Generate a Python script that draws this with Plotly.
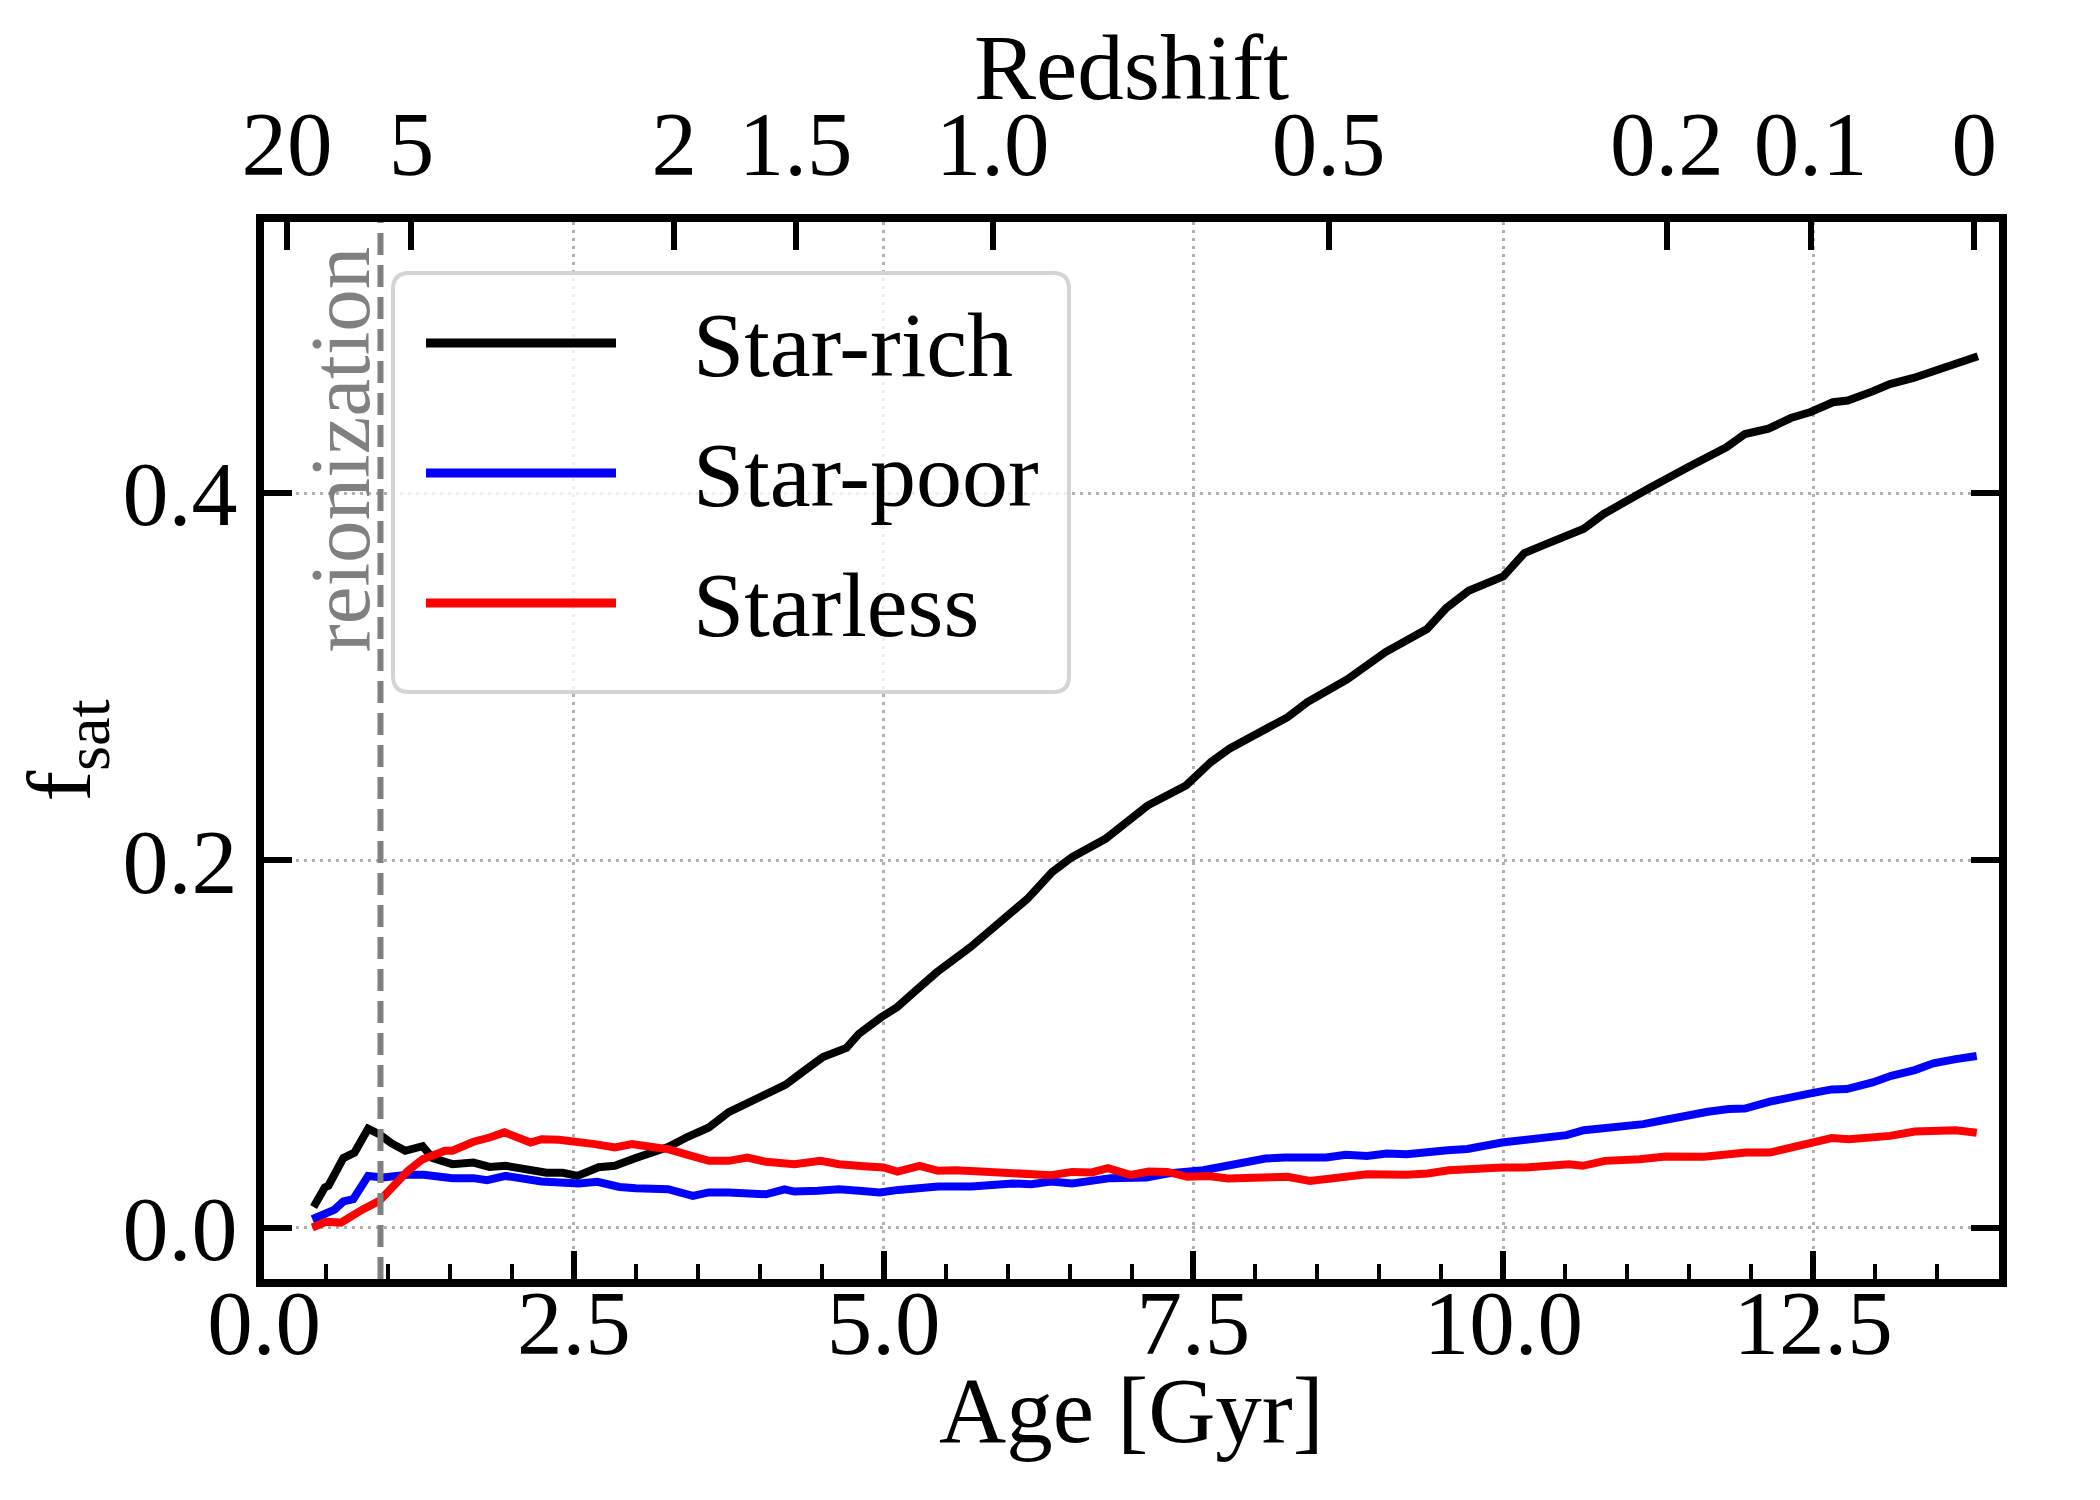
import plotly.graph_objects as go

FONT = "Liberation Serif, Times New Roman, serif"

# Star-rich haloes: age [Gyr], satellite fraction
rich_age = [0.40, 0.49, 0.52, 0.64, 0.73, 0.84, 0.93, 1.03, 1.14, 1.28, 1.36, 1.52, 1.69, 1.82,
            1.95, 2.11, 2.28, 2.41, 2.53, 2.70, 2.83, 3.00, 3.13, 3.26, 3.42, 3.59, 3.75, 3.88,
            4.05, 4.21, 4.34, 4.51, 4.70, 4.80, 4.98, 5.11, 5.26, 5.43, 5.70, 5.93, 6.16, 6.36,
            6.52, 6.79, 7.13, 7.44, 7.64, 7.79, 8.03, 8.26, 8.42, 8.59, 8.74, 9.05, 9.21, 9.385,
            9.54, 9.72, 10.0, 10.17, 10.32, 10.51, 10.65, 10.81, 11.0, 11.18, 11.49, 11.80,
            11.95, 12.14, 12.32, 12.48, 12.66, 12.78, 12.98, 13.12, 13.31, 13.46, 13.64, 13.83]
rich_fsat = [0.0114, 0.022, 0.023, 0.038, 0.041, 0.054, 0.051, 0.046, 0.042, 0.0445, 0.038,
             0.0347, 0.0356, 0.0332, 0.0338, 0.032, 0.030, 0.030, 0.0283, 0.033, 0.0338, 0.038,
             0.0405, 0.044, 0.0496, 0.0547, 0.063, 0.0674, 0.0738, 0.078, 0.0846, 0.093, 0.098,
             0.1056, 0.1147, 0.1202, 0.1292, 0.1392, 0.1528, 0.1664, 0.1791, 0.1937, 0.2018,
             0.2118, 0.2299, 0.2408, 0.2535, 0.2608, 0.2699, 0.278, 0.2862, 0.2934, 0.2985,
             0.3134, 0.3198, 0.326, 0.3374, 0.3468, 0.3546, 0.3673, 0.3715, 0.3773, 0.3806,
             0.3886, 0.3964, 0.4027, 0.414, 0.4249, 0.4321, 0.435, 0.4408, 0.4441, 0.4494,
             0.4503, 0.4553, 0.4593, 0.4626, 0.4662, 0.4695, 0.4744]

# Star-poor haloes
poor_age = [0.39, 0.49, 0.57, 0.64, 0.72, 0.84, 0.96, 1.16, 1.29, 1.52, 1.69, 1.80, 1.95, 2.24,
            2.54, 2.69, 2.87, 3.00, 3.26, 3.46, 3.59, 3.75, 3.92, 4.05, 4.20, 4.28, 4.47, 4.64,
            4.80, 4.97, 5.12, 5.44, 5.71, 6.04, 6.19, 6.35, 6.52, 6.68, 6.83, 7.12, 7.29, 7.58,
            7.78, 7.93, 8.08, 8.24, 8.57, 8.73, 8.90, 9.06, 9.22, 9.55, 9.71, 9.99, 10.27, 10.51,
            10.65, 10.85, 11.13, 11.31, 11.50, 11.65, 11.82, 11.95, 12.15, 12.33, 12.48, 12.65,
            12.77, 12.98, 13.13, 13.32, 13.47, 13.65, 13.82]
poor_fsat = [0.0047, 0.0071, 0.010, 0.0144, 0.0156, 0.0283, 0.0274, 0.0289, 0.0289, 0.0271,
             0.0271, 0.026, 0.0283, 0.0253, 0.0242, 0.0251, 0.0223, 0.0216, 0.0211, 0.0174,
             0.0193, 0.0193, 0.0183, 0.0183, 0.021, 0.0198, 0.0202, 0.021, 0.0202, 0.0193,
             0.0207, 0.0225, 0.0225, 0.0242, 0.0238, 0.0253, 0.0242, 0.0253, 0.0271, 0.0274,
             0.0296, 0.0314, 0.0343, 0.0356, 0.0378, 0.0383, 0.0383, 0.0398, 0.0392, 0.0405,
             0.0401, 0.0423, 0.043, 0.0465, 0.0483, 0.0505, 0.0532, 0.0543, 0.0565, 0.0589,
             0.0616, 0.0632, 0.0647, 0.065, 0.0687, 0.0707, 0.0732, 0.0754, 0.0756, 0.0792,
             0.0828, 0.0859, 0.0896, 0.0919, 0.0936]

# Starless haloes
less_age = [0.39, 0.50, 0.62, 0.70, 0.80, 0.93, 1.06, 1.16, 1.28, 1.46, 1.52, 1.69, 1.82, 1.94,
            2.15, 2.24, 2.38, 2.54, 2.67, 2.83, 2.97, 3.16, 3.26, 3.42, 3.59, 3.75, 3.90, 4.05,
            4.28, 4.49, 4.64, 4.84, 5.00, 5.11, 5.29, 5.44, 5.58, 5.78, 6.01, 6.21, 6.35, 6.52,
            6.68, 6.81, 6.99, 7.14, 7.29, 7.45, 7.62, 7.78, 8.08, 8.26, 8.44, 8.57, 8.73, 8.90,
            9.22, 9.39, 9.56, 9.71, 9.84, 9.99, 10.18, 10.30, 10.53, 10.64, 10.82, 11.10, 11.31,
            11.62, 11.81, 11.96, 12.15, 12.33, 12.48, 12.65, 12.79, 12.98, 13.12, 13.32, 13.47,
            13.65, 13.82]
less_fsat = [0.0002, 0.0033, 0.0029, 0.0065, 0.0102, 0.0147, 0.0247, 0.031, 0.0374, 0.042,
             0.042, 0.0469, 0.0492, 0.052, 0.0465, 0.0483, 0.048, 0.0461, 0.0456, 0.0438, 0.0456,
             0.0438, 0.0429, 0.0398, 0.0365, 0.0365, 0.0383, 0.036, 0.0347, 0.0365, 0.0347,
             0.0336, 0.0329, 0.0307, 0.0338, 0.0311, 0.0314, 0.0307, 0.0298, 0.0296, 0.0287,
             0.0305, 0.0302, 0.0325, 0.0289, 0.0307, 0.0305, 0.0278, 0.0283, 0.0269, 0.0269,
             0.0278, 0.0256, 0.0265, 0.0287, 0.0292, 0.0289, 0.0296, 0.0314, 0.0318, 0.0332,
             0.0329, 0.0329, 0.0334, 0.0347, 0.0338, 0.0365, 0.0374, 0.0389, 0.0387, 0.0398,
             0.041, 0.041, 0.0441, 0.046, 0.0489, 0.0483, 0.0489, 0.0501, 0.0525, 0.0529,
             0.0532, 0.0518]

age_ticks = [0.0, 2.5, 5.0, 7.5, 10.0, 12.5]
fsat_ticks = [0.0, 0.2, 0.4]
redshift_labels = ['20', '5', '2', '1.5', '1.0', '0.5', '0.2', '0.1', '0']
redshift_age = [0.185, 1.19, 3.31, 4.29, 5.88, 8.59, 11.32, 12.48, 13.80]
reionization_age = 0.94

series = [
    ('Star-rich', rich_age, rich_fsat, '#000000'),
    ('Star-poor', poor_age, poor_fsat, '#0000ff'),
    ('Starless', less_age, less_fsat, '#ff0000'),
]

# plot area in pixels (axis lines are drawn just outside it)
PLOT_L, PLOT_R, PLOT_T, PLOT_B = 256, 1991, 214, 1271


def px_x(px):
    return (px - PLOT_L) / (PLOT_R - PLOT_L)


def px_y(py):
    return (PLOT_B - py) / (PLOT_B - PLOT_T)


fig = go.Figure()
for name, x, y, color in series:
    fig.add_trace(go.Scatter(x=x, y=y, mode='lines', name=name,
                             line=dict(color=color, width=8), showlegend=False))

# invisible trace so the redshift axis is drawn
fig.add_trace(go.Scatter(x=[0, 14], y=[None, None], xaxis='x2', mode='lines',
                         showlegend=False, hoverinfo='skip'))

axis_common = dict(
    ticks='inside', tickcolor='black', tickwidth=6,
    showline=True, linecolor='black', linewidth=8,
    zeroline=False,
)
grid = dict(showgrid=True, gridcolor='#b0b0b0', gridwidth=3, griddash='3px,5px')

fig.update_layout(
    width=2100, height=1500,
    margin=dict(l=PLOT_L, r=2100 - PLOT_R, t=PLOT_T, b=1500 - PLOT_B, pad=0),
    plot_bgcolor='white', paper_bgcolor='white',
    font=dict(family=FONT, color='black'),
    xaxis=dict(
        range=[0, 14], tickvals=age_ticks, ticktext=[f'{v:.1f}' for v in age_ticks],
        ticklen=28, mirror=True, ticklabelstandoff=-42,
        tickfont=dict(family=FONT, size=91, color='black'),
        minor=dict(dtick=0.5, tick0=0, ticks='inside', ticklen=15, tickwidth=4,
                   tickcolor='black', showgrid=False),
        **grid, **axis_common,
    ),
    xaxis2=dict(
        overlaying='x', side='top', range=[0, 14],
        tickvals=redshift_age, ticktext=redshift_labels,
        ticks='inside', ticklen=28, tickwidth=6, tickcolor='black', ticklabelstandoff=28,
        showline=False, showgrid=False, zeroline=False,
        tickfont=dict(family=FONT, size=91, color='black'),
    ),
    yaxis=dict(
        range=[-0.0278, 0.5475], tickvals=fsat_ticks,
        ticktext=[f'{v:.1f}' for v in fsat_ticks],
        ticklen=28, mirror='ticks',
        tickfont=dict(family=FONT, size=92, color='black'),
        title=dict(text='f<sub>sat</sub>', font=dict(family=FONT, size=92), standoff=18),
        **grid, **axis_common,
    ),
)

# axis titles for the bottom (age) and top (redshift) axes
fig.add_annotation(x=0.5, y=px_y(1402), xref='paper', yref='paper', text='Age [Gyr]',
                   showarrow=False, xanchor='center', yanchor='middle',
                   font=dict(family=FONT, size=93, color='black'))
fig.add_annotation(x=0.5, y=px_y(60), xref='paper', yref='paper', text='Redshift',
                   showarrow=False, xanchor='center', yanchor='middle',
                   font=dict(family=FONT, size=93, color='black'))

# reionization marker
fig.add_shape(type='line', xref='x', yref='paper', x0=reionization_age, x1=reionization_age,
              y0=0, y1=1, line=dict(color='#808080', width=6, dash='22px,10px'), layer='above')
fig.add_annotation(x=reionization_age - 0.33, xref='x', y=px_y(442), yref='paper',
                   text='reionization', textangle=-90, showarrow=False,
                   font=dict(family=FONT, size=85, color='#808080'),
                   xanchor='center', yanchor='middle')

# legend box drawn by hand (long matplotlib-style handles)
x0, x1, y0, y1 = px_x(385), px_x(1061), px_y(684), px_y(265)
rx, ry = 16 / (PLOT_R - PLOT_L), 16 / (PLOT_B - PLOT_T)
box_path = (f'M {x0 + rx},{y0} L {x1 - rx},{y0} Q {x1},{y0} {x1},{y0 + ry} '
            f'L {x1},{y1 - ry} Q {x1},{y1} {x1 - rx},{y1} L {x0 + rx},{y1} '
            f'Q {x0},{y1} {x0},{y1 - ry} L {x0},{y0 + ry} Q {x0},{y0} {x0 + rx},{y0} Z')
fig.add_shape(type='path', xref='paper', yref='paper', path=box_path,
              fillcolor='rgba(255,255,255,0.8)', line=dict(color='#d4d4d4', width=4),
              layer='above')
legend_rows = [335, 465, 595]
for (name, _, _, color), yrow in zip(series, legend_rows):
    fig.add_shape(type='line', xref='paper', yref='paper', x0=px_x(418), x1=px_x(608),
                  y0=px_y(yrow), y1=px_y(yrow), line=dict(color=color, width=9),
                  layer='above')
    fig.add_annotation(x=px_x(683), y=px_y(yrow + 2), xref='paper', yref='paper', text=name,
                       showarrow=False, xanchor='left', yanchor='middle',
                       font=dict(family=FONT, size=92, color='black'))

fig.write_html('out.html')
